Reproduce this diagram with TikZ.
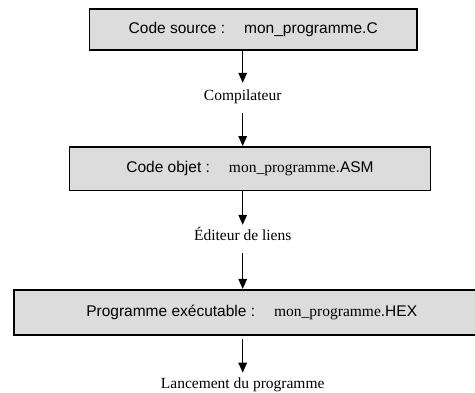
\documentclass[tikz,border=0pt]{standalone}
\usepackage{fontspec}
\setmainfont{Liberation Serif}
\setsansfont{Liberation Sans}
\usetikzlibrary{arrows.meta}
\definecolor{boxgray}{HTML}{DCDCDC}
\begin{document}
\begin{tikzpicture}[x=1pt,y=-1pt,
  box/.style={draw=black,line width=1.6pt,fill=boxgray,inner sep=0pt,
    font=\sffamily\fontsize{15.5}{18}\selectfont},
  lab/.style={inner sep=0pt,text height=10.6pt,text depth=3.4pt,anchor=base,
    font=\rmfamily\fontsize{15.5}{18}\selectfont},
  arr/.style={line width=1.4pt,-{Triangle[width=8.5pt,length=10pt]}}]
\useasboundingbox (0,0) rectangle (475,392);
\clip (0,0) rectangle (475,392);
\node[box,minimum width=327.5pt,minimum height=41pt] (box1) at (253.25,29.5)
  {Code source :\hspace{19pt}mon\_programme.C};
\node[box,minimum width=361pt,minimum height=43.5pt] (box2) at (250,168.6)
  {Code objet :\hspace{19pt}{\rmfamily mon\_programme}.ASM};
\node[box,minimum width=476pt,minimum height=45.5pt] (box3) at (251.7,312.5)
  {Programme exécutable :\hspace{19pt}{\rmfamily mon\_programme}.HEX};
\node[lab] (lab1) at (242.7,100.5) {Compilateur};
\node[lab] (lab2) at (242.7,240) {Éditeur de liens};
\node[lab] (lab3) at (242.7,388.5) {Lancement du programme};
\draw[arr,shorten >=6.9pt] (lab1 |- box1.south) -- (lab1.north);
\draw[arr,shorten <=8.8pt] (lab1.south) -- (lab1 |- box2.north);
\draw[arr,shorten >=4.4pt] (lab2 |- box2.south) -- (lab2.north);
\draw[arr,shorten <=9.6pt] (lab2.south) -- (lab2 |- box3.north);
\draw[arr,shorten <=3pt,shorten >=5pt] (lab3 |- box3.south) -- (lab3.north);
\end{tikzpicture}
\end{document}
